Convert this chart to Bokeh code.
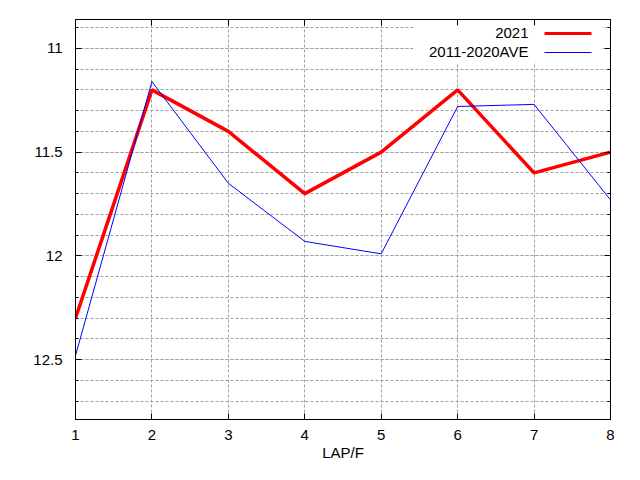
from bokeh.plotting import figure
from bokeh.models import (Range1d, FixedTicker, LinearAxis, CustomJSTickFormatter,
                          Label, BoxAnnotation)
from bokeh.embed import file_html
from bokeh.resources import INLINE

# ---- data ----
laps = [1, 2, 3, 4, 5, 6, 7, 8]
y2021 = [12.3, 11.2, 11.4, 11.7, 11.5, 11.2, 11.6, 11.5]
y_ave = [12.48, 11.16, 11.65, 11.93, 11.99, 11.28, 11.27, 11.73]
series_names = ["2021", "2011-2020AVE"]
x_ticks = [1, 2, 3, 4, 5, 6, 7, 8]
y_major = [11.0, 11.5, 12.0, 12.5]
y_minor = [10.9, 11.0, 11.1, 11.2, 11.3, 11.4, 11.5, 11.6, 11.7, 11.8, 11.9,
           12.0, 12.1, 12.2, 12.3, 12.4, 12.5, 12.6, 12.7]
x_label = "LAP/F"

FONT = "Liberation Sans"
FS = "15px"

p = figure(width=624, height=464, output_backend="svg", toolbar_location=None,
           x_range=Range1d(1, 8), y_range=Range1d(12.788, 10.861),
           min_border_left=75, min_border_right=14, min_border_top=19,
           min_border_bottom=45, x_axis_label=x_label)
p.background_fill_color = "white"
p.border_fill_color = "white"
p.outline_line_color = "black"
p.outline_line_width = 1

xt = FixedTicker(ticks=x_ticks, minor_ticks=[])
yt = FixedTicker(ticks=y_major, minor_ticks=y_minor)

def style_axis(ax, show_labels=True):
    ax.axis_line_color = "black"
    ax.major_tick_in = 6
    ax.major_tick_out = 0
    ax.minor_tick_in = 3
    ax.minor_tick_out = 0
    ax.major_tick_line_color = "black"
    ax.minor_tick_line_color = "black"
    ax.major_label_text_font = FONT
    ax.major_label_text_font_size = FS
    ax.major_label_text_color = "black"
    if not show_labels:
        ax.formatter = CustomJSTickFormatter(code="return ''")
        ax.major_label_standoff = 0
        ax.major_label_text_font_size = "1px"

p.xaxis.ticker = xt
p.yaxis.ticker = yt
style_axis(p.xaxis[0])
style_axis(p.yaxis[0])
p.xaxis.major_label_standoff = 10
p.yaxis.major_label_standoff = 13
p.xaxis.axis_label_standoff = 1
p.xaxis.axis_label_text_font = FONT
p.xaxis.axis_label_text_font_size = FS
p.xaxis.axis_label_text_font_style = "normal"
p.xaxis.axis_label_text_color = "black"

top_ax = LinearAxis(ticker=xt)
style_axis(top_ax, show_labels=False)
p.add_layout(top_ax, "above")
right_ax = LinearAxis(ticker=yt)
style_axis(right_ax, show_labels=False)
p.add_layout(right_ax, "right")

p.xgrid.ticker = xt
p.ygrid.ticker = yt
for g in (p.xgrid[0], p.ygrid[0]):
    g.grid_line_color = "#a0a0a0"
    g.grid_line_dash = "3 2"
    g.grid_line_width = 1
p.ygrid.minor_grid_line_color = "#a0a0a0"
p.ygrid.minor_grid_line_dash = "3 2"

p.line(laps, y2021, line_color="#ff0000", line_width=3.5)
p.line(laps, y_ave, line_color="#0000ff", line_width=1)

# ---- legend (text left of sample, like the original); screen units are
# relative to the plot frame, measured up from its bottom-left corner ----
p.add_layout(BoxAnnotation(left=338, right=527, bottom=357, top=394,
                           left_units="screen", right_units="screen",
                           top_units="screen", bottom_units="screen",
                           fill_color="white", fill_alpha=1, line_color=None))
for i, (name, col, lw) in enumerate(zip(series_names, ["#ff0000", "#0000ff"], [3, 1])):
    yc = 387 - i * 19
    p.add_layout(Label(x=453, y=yc, x_units="screen", y_units="screen", text=name,
                       text_align="right", text_baseline="middle",
                       text_font=FONT, text_font_size=FS, text_color="black"))
    p.add_layout(BoxAnnotation(left=469, right=516, bottom=yc - 1 - lw / 2,
                               top=yc - 1 + lw / 2,
                               left_units="screen", right_units="screen",
                               top_units="screen", bottom_units="screen",
                               fill_color=col, fill_alpha=1, line_color=None))

open("out.html", "w").write(file_html(p, INLINE))
